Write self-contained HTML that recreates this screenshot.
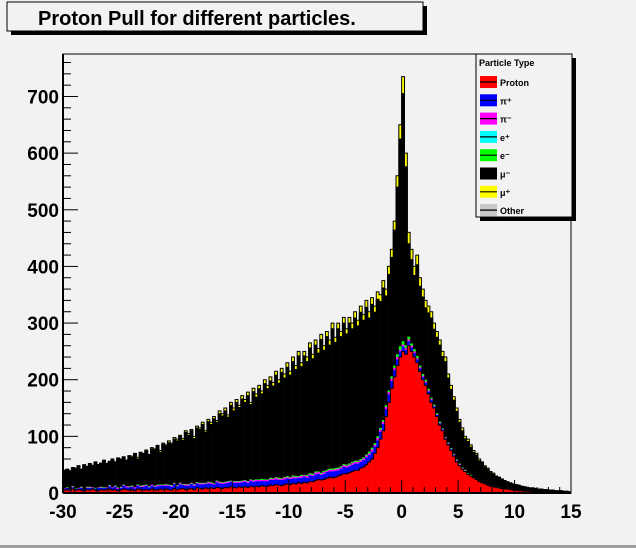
<!DOCTYPE html>
<html><head><meta charset="utf-8">
<style>
body{margin:0;background:#f2f2f2;width:636px;height:548px;overflow:hidden;font-family:"Liberation Sans",sans-serif;}
svg{display:block}
</style></head>
<body>
<svg id="chart" width="636" height="548" xmlns="http://www.w3.org/2000/svg">
<rect x="0" y="0" width="636" height="548" fill="#f2f2f2"/>
<rect x="0" y="545" width="636" height="3" fill="#a0a0a0"/>
<g>
<rect x="11" y="6" width="416" height="29" fill="#000"/>
<rect x="7" y="2" width="416" height="29" fill="#f2f2f2" stroke="#000" stroke-width="1"/>
<text x="38" y="25" font-size="20" font-weight="bold" fill="#000">Proton Pull for different particles.</text>
</g>
<g id="plot"></g>
<g id="legend"></g>
</svg>
<script>
const binLow = -30, binWidth = 0.25;
const total = [
40,42,38,45, 44,48,42,50, 47,52,49,55, 50,53,58,52, 56,60,55,62,
60,64,58,66, 65,70,63,72, 70,76,68,80, 78,84,75,88, 85,92,88,98,
95,102,96,110, 105,112,100,118, 115,125,110,130, 125,135,128,145, 140,150,138,160,
150,165,155,172, 165,178,160,185, 175,190,180,200, 190,205,195,215, 200,220,210,230,
215,240,225,250, 230,250,240,265, 245,270,255,280, 260,285,270,300, 275,300,285,310,
290,310,300,320, 305,330,315,340, 320,345,330,355, 350,375,360,400, 430,480,560,650,
735,600,460,430, 400,420,380,360, 340,330,320,300, 285,270,250,240, 210,190,170,150,
130,115,100,95, 85,75,70,60, 55,48,44,38, 35,30,28,25, 22,20,18,16,
15,14,12,11, 10,9,9,8, 7,7,6,6, 5,5,4,4, 4,3,3,2];
const proton = [
5,6,4,7, 5,6,5,4, 6,5,7,5, 4,6,5,6, 7,5,6,4,
5,7,6,5, 6,4,7,6, 5,6,5,7, 6,5,7,6, 7,6,5,8,
6,7,8,6, 7,8,6,9, 8,7,9,8, 9,8,10,9, 8,10,9,11,
10,9,11,10, 11,10,12,11, 12,11,13,12, 12,14,13,15, 14,13,15,16,
15,17,16,18, 17,19,18,20, 20,22,24,23, 24,26,28,27, 28,30,32,34,
34,36,38,40, 40,44,46,50, 55,60,70,80, 95,110,135,160, 185,205,225,240,
250,245,260,250, 240,230,215,200, 190,175,160,150, 135,120,110,95, 85,75,65,55,
48,42,38,33, 30,27,24,20, 18,16,14,12, 11,10,9,8, 7,7,6,5,
5,4,4,3, 3,3,2,2, 2,2,1,1, 1,1,1,1, 1,0,1,0];
const piPlus = [
2,3,1,3, 2,2,4,2, 3,4,2,3, 5,3,4,3, 5,4,5,3,
4,6,4,5, 5,4,6,5, 6,7,5,6, 5,7,6,7, 6,7,6,8,
6,8,6,7, 6,8,7,8, 7,8,7,9, 7,7,9,8, 8,7,9,9,
8,9,7,9, 9,8,9,9, 9,10,8,9, 9,9,10,9, 9,10,9,10,
10,9,10,9, 10,10,9,11, 10,11,10,9, 10,11,10,11, 11,10,11,12,
11,11,12,12, 12,11,12,13, 12,13,12,13, 13,12,13,14, 13,12,11,10,
9,8,8,7, 7,6,5,5, 5,4,4,3, 3,3,2,2, 2,2,2,2,
2,1,1,1, 1,1,1,1, 1,1,1,1, 1,1,1,1, 1,1,0,0,
0,0,0,0, 0,0,0,0, 0,0,0,0, 0,0,0,0, 0,0,0,0];
const piMinus = [
1,0,1,1, 0,1,1,0, 1,1,1,0, 1,1,0,1, 1,1,1,2,
1,1,2,1, 1,2,1,1, 2,1,1,2, 1,2,1,1, 2,1,2,1,
1,2,1,2, 2,1,2,1, 2,2,1,2, 2,1,2,2, 2,2,2,1,
2,2,2,2, 2,2,2,2, 2,2,2,2, 2,2,2,3, 2,2,3,2,
2,3,2,2, 3,2,3,2, 2,3,3,2, 3,2,3,3, 3,3,2,3,
3,3,3,3, 3,3,3,3, 3,4,3,4, 4,4,4,4, 4,4,4,3,
3,3,3,3, 3,2,2,2, 2,2,2,1, 1,1,1,1, 1,1,1,1,
1,1,1,0, 0,0,0,0, 0,0,0,0, 0,0,0,0, 0,0,0,0,
0,0,0,0, 0,0,0,0, 0,0,0,0, 0,0,0,0, 0,0,0,0];
const eMinus = [
0,1,0,1, 1,0,1,0, 1,1,0,1, 0,1,1,0, 1,0,1,1,
1,1,0,1, 1,0,1,1, 1,1,1,0, 1,1,1,1, 1,1,1,1,
1,1,1,1, 1,1,1,1, 1,1,1,1, 1,1,1,1, 1,1,1,1,
1,1,1,1, 1,1,1,1, 1,1,2,1, 1,2,1,1, 2,1,1,2,
1,2,2,1, 2,1,2,2, 2,2,1,2, 2,2,2,2, 2,2,2,2,
2,2,2,2, 2,2,2,2, 3,3,3,3, 3,3,3,3, 4,4,5,6,
6,5,5,4, 4,4,3,3, 3,3,2,2, 2,2,1,1, 1,1,1,1,
1,1,1,1, 1,0,0,0, 0,0,0,0, 0,0,0,0, 0,0,0,0,
0,0,0,0, 0,0,0,0, 0,0,0,0, 0,0,0,0, 0,0,0,0];
const muPlus = [
0,0,1,0, 1,0,0,1, 1,0,1,1, 0,1,1,1, 1,1,1,1,
1,1,1,1, 2,1,3,1, 1,2,1,2, 2,1,3,2, 2,3,2,3,
3,2,3,3, 3,2,4,3, 3,4,3,4, 4,4,3,5, 4,5,4,5,
5,5,4,6, 5,6,4,6, 6,6,5,7, 6,7,6,7, 6,7,7,8,
7,8,7,8, 7,8,8,9, 8,9,8,9, 8,9,9,10, 9,10,9,10,
9,10,10,11, 10,11,10,12, 11,12,11,13, 12,13,12,14, 14,16,20,25,
30,24,20,18, 16,17,15,14, 13,12,11,11, 10,9,9,8, 7,7,6,6,
5,5,4,4, 4,3,3,3, 2,2,2,2, 2,1,1,1, 1,1,1,1,
1,1,0,0, 0,0,0,0, 0,0,0,0, 0,0,0,0, 0,0,0,0];
const xTicks = [-30,-25,-20,-15,-10,-5,0,5,10,15];
const yTicks = [0,100,200,300,400,500,600,700];
const legendLabels = ["Proton","π⁺","π⁻","e⁺","e⁻","μ⁻","μ⁺","Other"];
const legendColors = ["#ff0000","#0000ff","#ff00ff","#00ffff","#00ff00","#000000","#ffff00","#c8c8c8"];

const X0=63, X1=571, Y0=493, Y1=54;
const xMin=-30, xMax=15, yMax=775;
const sx = v => X0 + (v - xMin) / (xMax - xMin) * (X1 - X0);
const sy = v => Y0 - v / yMax * (Y0 - Y1);
const NS="http://www.w3.org/2000/svg";
const plot=document.getElementById('plot');
function mk(tag, attrs, parent){const e=document.createElementNS(NS,tag);for(const k in attrs)e.setAttribute(k,attrs[k]);(parent||plot).appendChild(e);return e;}

const frame=mk('rect',{x:X0,y:Y1,width:X1-X0,height:Y0-Y1,fill:'#f2f2f2'});



const layers=[[proton,'#ff0000','proton'],[piPlus,'#0000ff','pi-plus'],[piMinus,'#ff00ff','pi-minus'],[eMinus,'#00ff00','e-minus'],[null,'#000000','mu-minus'],[muPlus,'#ffff00','mu-plus']];
const barsG=mk('g',{});


for(let i=0;i<total.length;i++){
  const xa=sx(binLow+i*binWidth), xb=sx(binLow+(i+1)*binWidth);
  let cum=0;
  const sumOthers=proton[i]+piPlus[i]+piMinus[i]+eMinus[i]+muPlus[i];
  for(const [arr,col,nm] of layers){
    const v = arr ? arr[i] : Math.max(0,total[i]-sumOthers);
    if(v<=0) continue;
    const r=mk('rect',{x:xa,y:sy(cum+v),width:xb-xa+0.3,height:sy(cum)-sy(cum+v),fill:col},barsG);
    
    
    cum+=v;
  }
}
function outline(fn,name){
  let d='M'+sx(binLow)+','+sy(0);
  for(let i=0;i<total.length;i++){
    const v=fn(i);
    d+=' L'+sx(binLow+i*binWidth)+','+sy(v)+' L'+sx(binLow+(i+1)*binWidth)+','+sy(v);
  }
  const p=mk('path',{d:d,fill:'none',stroke:'#000','stroke-width':1});
  
  
}
outline(i=>proton[i],'proton-outline');
outline(i=>total[i]-muPlus[i],'mu-minus-outline');
outline(i=>total[i],'total-outline');

const border=mk('rect',{x:X0,y:Y1,width:X1-X0,height:Y0-Y1,fill:'none',stroke:'#000','stroke-width':1});



const xAxis=mk('g',{});


mk('line',{x1:X0,y1:Y0,x2:X1,y2:Y0,stroke:'#000','stroke-width':2},xAxis);
for(let v=xMin; v<=xMax; v+=1){
  const major = v%5===0;
  mk('line',{x1:sx(v),y1:Y0,x2:sx(v),y2:Y0-(major?13:6),stroke:'#000'},xAxis);
}
for(const t of xTicks){
  const tx=mk('text',{x:sx(t),y:Y0+25,'text-anchor':'middle','font-size':19,'font-weight':'bold'},xAxis);
  tx.textContent=t;
  
  
}
const yAxis=mk('g',{});


mk('line',{x1:X0,y1:Y0,x2:X0,y2:Y1,stroke:'#000','stroke-width':2},yAxis);
for(let v=0; v<=yMax; v+=20){
  const major = v%100===0;
  mk('line',{x1:X0,y1:sy(v),x2:X0+(major?15:8),y2:sy(v),stroke:'#000'},yAxis);
}
for(const t of yTicks){
  const ty=mk('text',{x:X0-4,y:sy(t)+7,'text-anchor':'end','font-size':19,'font-weight':'bold'},yAxis);
  ty.textContent=t;
  
  
}

const lg=document.getElementById('legend');
mk('rect',{x:480,y:58,width:96,height:163,fill:'#000'},lg);
mk('rect',{x:476,y:54,width:96,height:163,fill:'#f2f2f2',stroke:'#000'},lg);
const lt=mk('text',{x:479,y:66,'font-size':9,'font-weight':'bold'},lg);
lt.textContent='Particle Type';


legendLabels.forEach((lab,k)=>{
  const y=76+k*18.3;
  const g=mk('g',{},lg);
  
  
  mk('rect',{x:480,y:y,width:17,height:12,fill:legendColors[k]},g);
  mk('line',{x1:480,y1:y+6,x2:497,y2:y+6,stroke:'#000','stroke-width':1.2},g);
  const t=mk('text',{x:500,y:y+10,'font-size':9,'font-weight':'bold'},g);
  t.textContent=lab;
});
</script>
</body></html>
